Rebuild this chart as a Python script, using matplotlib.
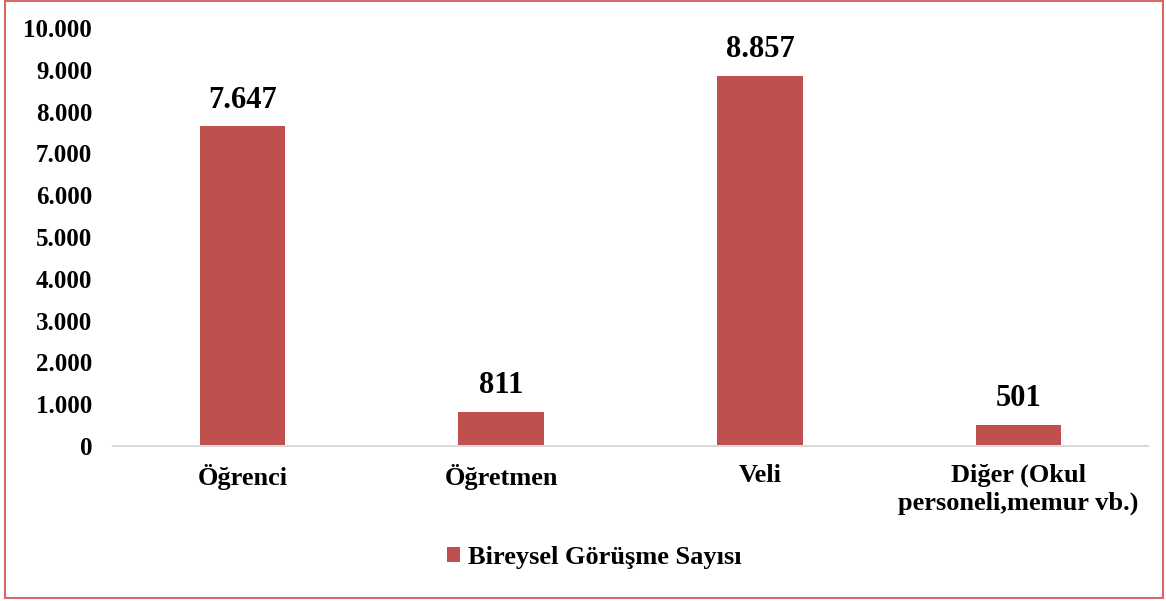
import matplotlib.pyplot as plt
from matplotlib.patches import Rectangle

categories = ['Öğrenci', 'Öğretmen', 'Veli', 'Diğer (Okul\npersoneli,memur vb.)']
values = [7647, 811, 8857, 501]
series_name = 'Bireysel Görüşme Sayısı'
yticks = [0, 1000, 2000, 3000, 4000, 5000, 6000, 7000, 8000, 9000, 10000]

bar_color = '#C0504D'

plt.rcParams['font.family'] = ['Liberation Serif', 'DejaVu Serif']
plt.rcParams['font.weight'] = 'bold'

fig = plt.figure(figsize=(11.66, 6.01), dpi=100)
ax = fig.add_axes([0.0969, 0.2579, 0.8877, 0.6955])

x = range(len(categories))
bars = ax.bar(x, values, width=0.33, color=bar_color, label=series_name, zorder=2)

def fmt(v):
    return f'{v:,}'.replace(',', '.')

for bar, v in zip(bars, values):
    ax.text(bar.get_x() + bar.get_width() / 2, v + 280, fmt(v),
            ha='center', va='bottom', fontsize=22, fontweight='bold')

ax.set_xlim(-0.5, 3.5)
ax.set_ylim(0, 10000)
ax.set_yticks(yticks)
ax.set_yticklabels([fmt(t) for t in yticks], fontsize=18, fontweight='bold')
ax.set_xticks(list(x))
ax.set_xticklabels(categories, fontsize=19, fontweight='bold', linespacing=1.2)
ax.tick_params(axis='y', length=0, pad=15)
ax.tick_params(axis='x', length=0, pad=13)

for side in ['top', 'right', 'left']:
    ax.spines[side].set_visible(False)
ax.spines['bottom'].set_color('#D9D9D9')
ax.spines['bottom'].set_linewidth(1.5)

leg = fig.legend(handles=[bars], labels=[series_name], loc='center',
                 bbox_to_anchor=(0.51, 0.072), frameon=False,
                 prop={'size': 19, 'weight': 'bold'},
                 handlelength=0.5, handleheight=0.5, handletextpad=0.3)

# outer border
fig.patches.append(Rectangle((0.004, 0.005), 0.993, 0.993, transform=fig.transFigure,
                             fill=False, edgecolor='#D46A6A', linewidth=1.5))

plt.savefig('out.png', dpi=100)
